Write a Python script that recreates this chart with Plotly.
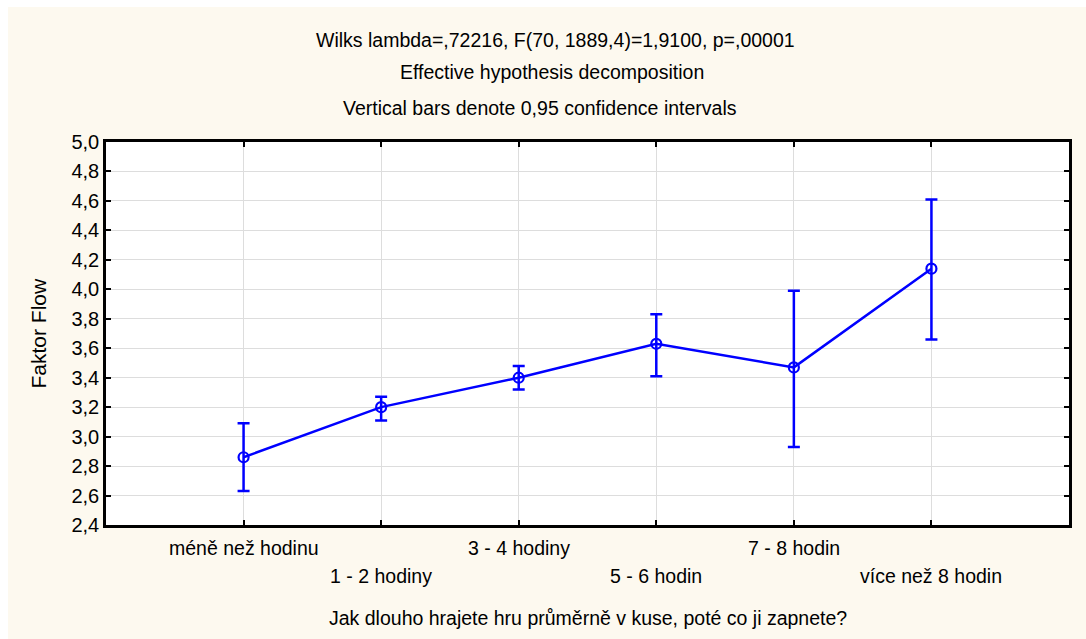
import plotly.graph_objects as go

# Category labels (time spent playing in one session)
categories = ["méně než hodinu", "1 - 2 hodiny", "3 - 4 hodiny",
              "5 - 6 hodin", "7 - 8 hodin", "více než 8 hodin"]
# Means of "Faktor Flow" and 95% confidence limits
means = [2.86, 3.20, 3.40, 3.63, 3.47, 4.14]
upper = [3.09, 3.27, 3.48, 3.83, 3.99, 4.61]
lower = [2.63, 3.11, 3.32, 3.41, 2.93, 3.66]
y_ticks = [2.4, 2.6, 2.8, 3.0, 3.2, 3.4, 3.6, 3.8, 4.0, 4.2, 4.4, 4.6, 4.8, 5.0]

title_lines = [
    "Wilks lambda=,72216, F(70, 1889,4)=1,9100, p=,00001",
    "Effective hypothesis decomposition",
    "Vertical bars denote 0,95 confidence intervals",
]
x_title = "Jak dlouho hrajete hru průměrně v kuse, poté co ji zapnete?"
y_title = "Faktor Flow"

FONT = "Liberation Sans, Arial, sans-serif"
BLUE = "#0000FF"
CREAM = "#FDF9EF"
TXT = 19.5

xs = list(range(len(categories)))
err_plus = [u - m for u, m in zip(upper, means)]
err_minus = [m - l for m, l in zip(means, lower)]

fig = go.Figure()
fig.add_trace(go.Scatter(
    x=xs, y=means, mode="lines+markers",
    line=dict(color=BLUE, width=2.5),
    marker=dict(symbol="circle-open", size=10, color=BLUE, line=dict(width=2.2, color=BLUE)),
    error_y=dict(type="data", symmetric=False, array=err_plus, arrayminus=err_minus,
                 color=BLUE, thickness=2.5, width=6),
    showlegend=False,
))

annotations = []
# staggered category labels under the x axis
for i, lab in enumerate(categories):
    annotations.append(dict(
        x=xs[i], y=0, xref="x", yref="paper", text=lab, showarrow=False,
        yanchor="middle", xanchor="center",
        yshift=-23 if i % 2 == 0 else -51,
        font=dict(family=FONT, size=TXT, color="black"),
    ))
# three-line heading
for line, xp, shift in zip(title_lines, [0.467, 0.463, 0.451], [102, 70, 34]):
    annotations.append(dict(
        x=xp, y=1, xref="paper", yref="paper", text=line, showarrow=False,
        yanchor="middle", xanchor="center", yshift=shift,
        font=dict(family=FONT, size=TXT, color="black"),
    ))
annotations.append(dict(
    x=0.5, y=0, xref="paper", yref="paper", text=x_title, showarrow=False,
    yanchor="middle", xanchor="center", yshift=-93,
    font=dict(family=FONT, size=TXT, color="black"),
))
annotations.append(dict(
    x=0, y=0.5, xref="paper", yref="paper", text=y_title, showarrow=False,
    yanchor="middle", xanchor="center", xshift=-68, textangle=-90,
    font=dict(family=FONT, size=21, color="black"),
))

fig.update_layout(
    width=1086, height=639,
    margin=dict(l=106, r=17, t=142, b=114),
    paper_bgcolor=CREAM, plot_bgcolor="white",
    separators=", ",
    font=dict(family=FONT, size=TXT, color="black"),
    annotations=annotations,
    shapes=[
        # thin white strips along the left and top edges of the page
        dict(type="rect", xref="paper", yref="paper", x0=-0.2, x1=-0.1018,
             y0=-0.5, y1=1.5, layer="below", line=dict(width=0), fillcolor="white"),
        dict(type="rect", xref="paper", yref="paper", x0=-0.2, x1=1.2,
             y0=1.3525, y1=1.5, layer="below", line=dict(width=0), fillcolor="white"),
    ],
)

fig.update_xaxes(
    range=[-1, 6], tickvals=xs, showticklabels=False,
    showgrid=True, gridcolor="#DDDDDD", gridwidth=1,
    showline=True, linecolor="black", linewidth=2.5, mirror="ticks",
    ticks="inside", ticklen=5, tickwidth=2, tickcolor="black", zeroline=False,
)
fig.update_yaxes(
    range=[2.4, 5.0], tickvals=y_ticks, tickformat=".1f",
    showgrid=True, gridcolor="#DDDDDD", gridwidth=1,
    showline=True, linecolor="black", linewidth=2.5, mirror="ticks",
    ticks="inside", ticklen=5, tickwidth=2, tickcolor="black", zeroline=False,
    tickfont=dict(family=FONT, size=20, color="black"),
)

fig.write_html("out.html")
